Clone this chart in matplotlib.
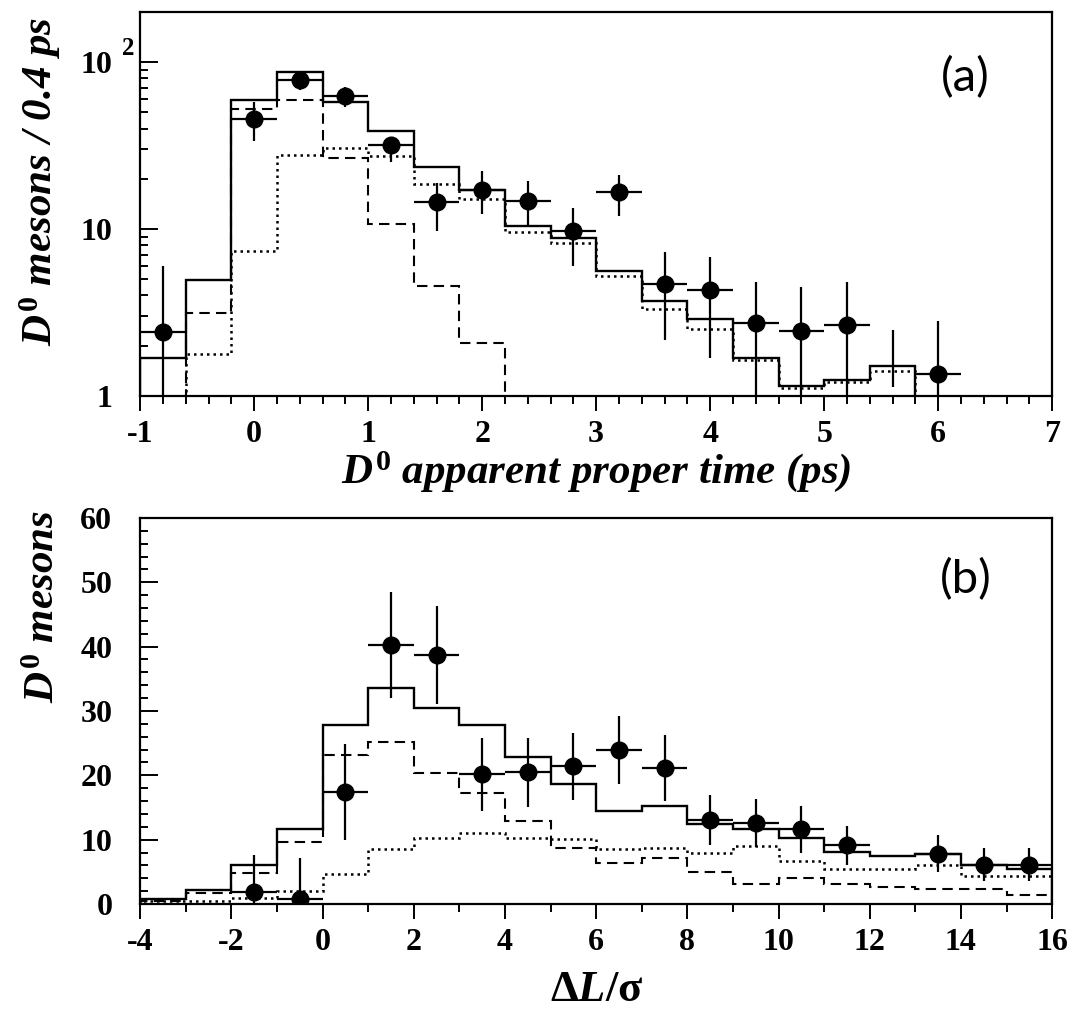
import numpy as np
import matplotlib
matplotlib.use('Agg')
from matplotlib import pyplot as plt
from matplotlib.ticker import MultipleLocator, FixedLocator, FixedFormatter, NullFormatter
import matplotlib.transforms as mtransforms

plt.rcParams['font.family'] = ['Liberation Serif', 'DejaVu Serif']
plt.rcParams['axes.unicode_minus'] = False
plt.rcParams['mathtext.fontset'] = 'custom'
plt.rcParams['mathtext.rm'] = 'Liberation Serif:bold'
plt.rcParams['mathtext.it'] = 'Liberation Serif:italic:bold'
plt.rcParams['mathtext.bf'] = 'Liberation Serif:bold'

# (a) proper time, 0.4 ps bins
t_total_edges = np.arange(-1.0, 5.81, 0.4)
t_total = [1.68, 4.97, 59.7, 87.5, 57.5, 38.9, 23.4, 17.2, 10.5, 8.8, 5.58,
           3.73, 2.88, 1.70, 1.15, 1.24, 1.51]
t_dotted_edges = np.arange(-0.6, 5.81, 0.4)
t_dotted = [1.79, 7.35, 27.9, 30.6, 27.5, 18.7, 15.1, 9.55, 8.2, 5.25, 3.33,
            2.51, 1.65, 1.12, 1.21, 1.42]
t_dashed_edges = np.arange(-0.6, 2.21, 0.4)
t_dashed = [3.13, 52.7, 59.2, 26.7, 10.7, 4.53, 2.09]

t_x = [-0.8, 0.0, 0.4, 0.8, 1.2, 1.6, 2.0, 2.4, 2.8, 3.2, 3.6, 4.0, 4.4, 4.8, 5.2, 6.0]
t_y = [2.41, 45.7, 78, 62.5, 31.8, 14.5, 17.2, 14.8, 9.8, 16.6, 4.71, 4.29, 2.72, 2.45, 2.68, 1.35]
t_hi = [5.97, 57.5, 88, 71, 35.2, 18.9, 22.4, 19.3, 13.3, 21.0, 7.3, 6.8, 4.85, 4.52, 4.85, 2.81]
t_lo = [0.5, 33.6, 68, 53.7, 25.1, 9.77, 12.3, 10.4, 6.0, 12.0, 2.15, 1.70, 0.5, 0.5, 0.5, 0.5]
t_bar_x = 5.6
t_bar_lo = 1.13
t_bar_hi = 2.48

# (b) decay length significance, unit bins
l_edges = np.arange(-4, 17, 1)
l_total = [0.8, 2.2, 6.0, 11.7, 27.8, 33.6, 30.4, 27.8, 22.8, 18.6, 14.4, 15.2,
           12.5, 11.6, 10.3, 8.1, 7.5, 7.7, 6.1, 5.4]
l_dashed = [0.5, 1.7, 4.8, 9.6, 23.2, 25.1, 20.3, 17.2, 12.9, 8.7, 6.3, 7.1,
            4.9, 3.1, 4.1, 3.1, 2.6, 2.3, 2.3, 1.4]
l_dotted = [0.4, 0.4, 1.0, 2.0, 4.6, 8.6, 10.3, 11.0, 10.3, 10.1, 8.6, 8.7,
            7.9, 9.0, 6.7, 5.5, 5.5, 6.1, 4.4, 4.4]

l_x = [-1.5, -0.5, 0.5, 1.5, 2.5, 3.5, 4.5, 5.5, 6.5, 7.5, 8.5, 9.5, 10.5, 11.5, 13.5, 14.5, 15.5]
l_y = [1.9, 0.8, 17.4, 40.3, 38.7, 20.2, 20.5, 21.5, 24.0, 21.2, 13.0, 12.6, 11.6, 9.1, 7.7, 6.1, 6.1]
l_hi = [7.6, 7.2, 24.9, 48.5, 46.3, 25.8, 25.8, 26.6, 29.2, 26.2, 17.0, 16.3, 15.2, 12.1, 10.7, 8.7, 8.7]
l_lo = [0, -0.5, 9.9, 32.0, 31.1, 14.4, 15.1, 16.1, 18.7, 16.0, 9.2, 8.9, 7.9, 6.0, 4.9, 3.5, 3.5]

dash = (0, (5, 3))
dot = (0, (1, 1.6))
tick_font = dict(family='Liberation Serif', weight='bold', size=23)
label_kw = dict(fontsize=31, fontweight='bold', style='italic')
tag_kw = dict(fontsize=34, family=['Lato', 'DejaVu Sans'], fontweight='normal',
              ha='center', va='center')


def style_axes(ax):
    for s in ax.spines.values():
        s.set_linewidth(1.6)
    ax.tick_params(axis='x', which='both', direction='out', width=1.4, top=False)
    ax.tick_params(axis='x', which='major', length=11, pad=6)
    ax.tick_params(axis='x', which='minor', length=6)
    ax.tick_params(axis='y', which='both', direction='in', width=1.4, right=False)
    ax.tick_params(axis='y', which='major', length=13, pad=20)
    ax.tick_params(axis='y', which='minor', length=6)
    for lab in ax.get_xticklabels() + ax.get_yticklabels():
        lab.set_fontproperties(matplotlib.font_manager.FontProperties(**tick_font))


def data_points(ax, x, y, lo, hi, xerr):
    y = np.array(y)
    yerr = [y - np.array(lo), np.array(hi) - y]
    ax.errorbar(x, y, yerr=yerr, xerr=xerr, fmt='o', color='k', ms=12,
                elinewidth=1.6, capsize=0, zorder=5)


fig = plt.figure(figsize=(10.78, 10.14), dpi=100)
ax1 = fig.add_axes([0.130, 0.6095, 0.846, 0.3787])
ax2 = fig.add_axes([0.130, 0.1085, 0.846, 0.3807])

# panel (a)
ax1.set_yscale('log')
ax1.stairs(t_total, t_total_edges, baseline=0.3, color='k', lw=1.7)
ax1.stairs(t_dotted, t_dotted_edges, baseline=0.3, color='k', lw=1.8, linestyle=dot)
ax1.stairs(t_dashed, t_dashed_edges, baseline=0.3, color='k', lw=1.5, linestyle=dash)
data_points(ax1, t_x, t_y, t_lo, t_hi, 0.2)
ax1.vlines(t_bar_x, t_bar_lo, t_bar_hi, color='k', lw=1.6)
ax1.set_xlim(-1, 7)
ax1.set_ylim(1, 200)
ax1.xaxis.set_major_locator(MultipleLocator(1))
ax1.xaxis.set_minor_locator(MultipleLocator(0.2))
ax1.yaxis.set_major_locator(FixedLocator([1, 10, 100]))
ax1.yaxis.set_major_formatter(FixedFormatter(['1', '10', '10']))
ax1.yaxis.set_minor_locator(FixedLocator([k * d for d in (1, 10, 100) for k in range(2, 10)]))
ax1.yaxis.set_minor_formatter(NullFormatter())
style_axes(ax1)
trans = mtransforms.blended_transform_factory(ax1.transAxes, ax1.transData)
ax1.annotate('2', xy=(0, 100), xycoords=trans, xytext=(-4, 10), textcoords='offset points',
             ha='right', va='center', fontsize=18, fontweight='bold')
ax1.set_ylabel(r'$D^0$ mesons / 0.4 ps', **label_kw)
ax1.yaxis.set_label_coords(-0.085, 0.56)
ax1.set_xlabel(r'$D^0$ apparent proper time (ps)', labelpad=0, **label_kw)
ax1.text(0.905, 0.83, '(a)', transform=ax1.transAxes, **tag_kw)

# panel (b)
ax2.stairs(l_total, l_edges, baseline=0, color='k', lw=1.7)
ax2.stairs(l_dashed, l_edges, baseline=0, color='k', lw=1.5, linestyle=dash)
ax2.stairs(l_dotted, l_edges, baseline=0, color='k', lw=1.8, linestyle=dot)
data_points(ax2, l_x, l_y, l_lo, l_hi, 0.5)
ax2.set_xlim(-4, 16)
ax2.set_ylim(0, 60)
ax2.xaxis.set_major_locator(MultipleLocator(2))
ax2.xaxis.set_minor_locator(MultipleLocator(1))
ax2.yaxis.set_major_locator(MultipleLocator(10))
ax2.yaxis.set_minor_locator(MultipleLocator(2))
style_axes(ax2)
ax2.set_ylabel(r'$D^0$ mesons', **label_kw)
ax2.yaxis.set_label_coords(-0.085, 0.77)
ax2.set_xlabel(r'$\mathrm{\Delta}\mathit{L}/\mathrm{\sigma}$', fontsize=32, labelpad=10)
ax2.text(0.905, 0.84, '(b)', transform=ax2.transAxes, **tag_kw)

fig.savefig('out.png', dpi=100)
